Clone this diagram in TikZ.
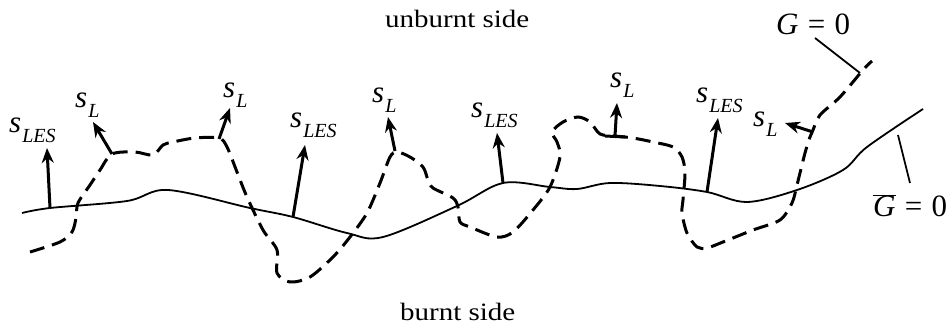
\documentclass[tikz,border=0pt]{standalone}
\usepackage{fontspec}
\setmainfont{Liberation Serif}
\newfontfamily\txtfont{Liberation Serif}[FakeStretch=1.16]
\usetikzlibrary{arrows.meta}
\newcommand{\slab}[1]{\textit{s}\kern1pt\raisebox{-10pt}{\fontsize{20}{20}\selectfont\textit{#1}}}
\tikzset{
  lbl/.style={inner sep=0pt, anchor=base west, font=\fontsize{31}{36}\selectfont},
  side/.style={inner sep=0pt, anchor=base west, font=\txtfont\fontsize{25}{30}\selectfont},
  front/.style={line width=3pt, dash pattern=on 15pt off 8pt},
  mean/.style={line width=1.8pt},
  speed/.style={line width=3pt, -{Stealth[length=15pt,width=12pt]}},
  leader/.style={line width=1.8pt},
}
\begin{document}
\begin{tikzpicture}[x=1pt,y=-1pt]
\useasboundingbox (0,0) rectangle (946,331);
% texts
\node[side] (unb) at (385,28) {unburnt side};
\node[side] (brn) at (400,320) {burnt side};
\node[lbl] (G) at (776,35) {\textit{G}\hspace{0.3em}=\hspace{0.3em}0};
\node[lbl] (Gb) at (873,217) {$\overline{\mbox{\textit{G}}}$\hspace{0.3em}=\hspace{0.3em}0};
% mean front
\draw[mean] plot[smooth, tension=0.55] coordinates {(22,213) (50,208) (127,201) (168,190) (250,208) (293,217) (347,233) (383,237) (457,206) (503,183) (550,187) (577,189) (610,183) (660,186) (707,192) (747,202) (797,190) (843,170) (867,147) (923,109)};
% instantaneous front
\draw[front] plot[smooth, tension=0.5] coordinates {(30,252) (60,242) (72,232) (76,218) (78,203) (90,185) (100,170) (112,154) (135,152) (153,155) (163,145) (173,142) (195,138) (219,138) (227,147) (237,172) (247,197) (263,230) (277,250) (277,273) (290,282) (310,277) (333,257) (350,237) (367,213) (380,183) (390,157) (397,152) (410,157) (423,167) (428,180) (433,188) (453,198) (458,207) (460,222) (470,227) (497,237) (513,232) (533,210) (550,187) (560,157) (557,142) (552,132) (563,122) (578,117) (590,122) (600,134) (615,136) (633,138) (653,142) (673,147) (682,157) (685,173) (683,200) (682,213) (687,233) (697,247) (707,248) (723,242) (753,230) (780,220) (792,203) (797,185) (805,153) (810,137) (813,130) (820,115) (840,97) (863,70) (872,61)};
% coordinates on fronts
\coordinate (l1) at (112,154); \coordinate (l1t) at (93,122);
\coordinate (l2) at (219,139); \coordinate (l2t) at (230,108);
\coordinate (l3) at (395,151); \coordinate (l3t) at (388,117);
\coordinate (l4) at (615,136); \coordinate (l4t) at (617,103);
\coordinate (l5) at (813,132); \coordinate (l5t) at (785,123);
\coordinate (e1) at (50,208); \coordinate (e1t) at (47,148);
\coordinate (e2) at (293,217); \coordinate (e2t) at (305,145);
\coordinate (e3) at (503,183); \coordinate (e3t) at (497,133);
\coordinate (e4) at (707,192); \coordinate (e4t) at (718,118);
\draw[speed] (l1) -- (l1t);
\draw[speed] (l2) -- (l2t);
\draw[speed] (l3) -- (l3t);
\draw[speed] (l4) -- (l4t);
\draw[speed] (l5) -- (l5t);
\draw[speed] (e1) -- (e1t);
\draw[speed] (e2) -- (e2t);
\draw[speed] (e3) -- (e3t);
\draw[speed] (e4) -- (e4t);
\coordinate (tb1) at (605,136); \coordinate (tb2) at (625,137);
\draw[line width=3pt] (tb1) -- (tb2);
% speed labels
\node[lbl] (sl1) at (75,108) {\slab{L}};
\node[lbl] (sl2) at (223,98) {\slab{L}};
\node[lbl] (sl3) at (372,103) {\slab{L}};
\node[lbl] (sl4) at (610,88) {\slab{L}};
\node[lbl] (sl5) at (753,127) {\slab{L}};
\node[lbl] (se1) at (9,133) {\slab{LES}};
\node[lbl] (se2) at (290,128) {\slab{LES}};
\node[lbl] (se3) at (471,118) {\slab{LES}};
\node[lbl] (se4) at (696,103) {\slab{LES}};
% leaders
\coordinate (gl1) at (815,38); \coordinate (gl2) at (860,73);
\draw[leader] (gl1) -- (gl2);
\coordinate (gb1) at (898,135); \coordinate (gb2) at (910,183);
\draw[leader] (gb1) -- (gb2);
\end{tikzpicture}
\end{document}
